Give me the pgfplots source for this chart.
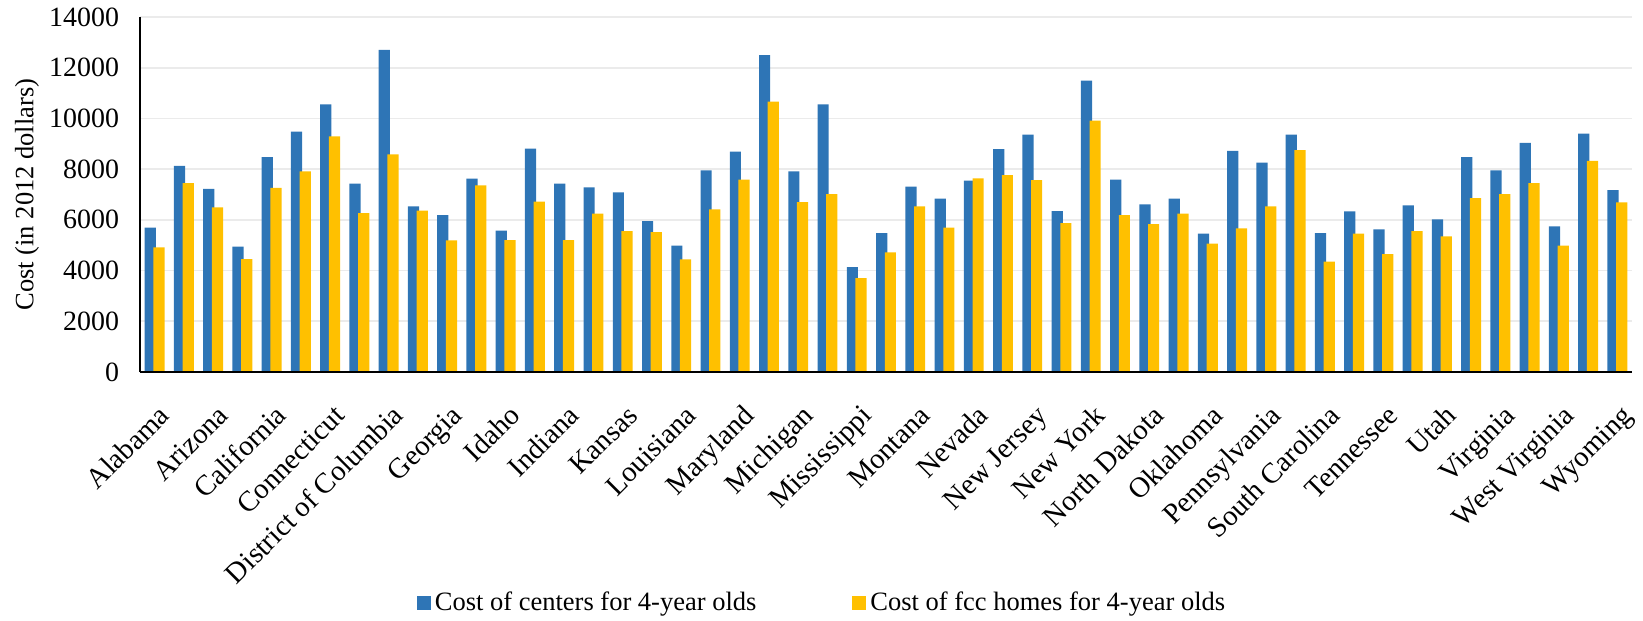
\documentclass[border=0pt]{standalone}
\usepackage{fontspec}
\setmainfont{Liberation Serif}
\usepackage{pgfplots}
\usepackage{pgfplotstable}
\pgfplotsset{compat=1.18}

\definecolor{centerblue}{HTML}{2E75B6}
\definecolor{fccyellow}{HTML}{FFC000}
\definecolor{gridgray}{HTML}{EBEBEB}

% Annual cost of care for 4-year olds by state (2012 dollars)
% idx: 0 = Alabama ... 50 = Wyoming (alphabetical, incl. District of Columbia)
\pgfplotstableread{
idx center fcc
0  5690  4910
1  8130  7450
2  7220  6490
3  4940  4450
4  8470  7260
5  9480  7910
6  10550 9290
7  7430  6265
8  12700 8580
9  6530  6360
10 6190  5190
11 7630  7355
12 5580  5200
13 8810  6720
14 7430  5200
15 7280  6250
16 7080  5560
17 5950  5520
18 4980  4440
19 7950  6410
20 8690  7590
21 12500 10660
22 7910  6700
23 10550 7010
24 4140  3700
25 5480  4715
26 7315  6530
27 6840  5690
28 7550  7640
29 8790  7760
30 9360  7565
31 6340  5870
32 11490 9915
33 7590  6190
34 6610  5830
35 6840  6250
36 5460  5060
37 8720  5660
38 8260  6530
39 9360  8750
40 5480  4350
41 6330  5460
42 5620  4650
43 6570  5560
44 6015  5345
45 8470  6855
46 7950  7015
47 9035  7450
48 5740  4980
49 9400  8330
50 7170  6685
}\costdata

\newcommand{\labelfont}{\fontsize{13.3}{15.5}\selectfont}
\newcommand{\yfont}{\fontsize{14}{16}\selectfont}
\newcommand{\xfont}{\fontsize{14.4}{16.5}\selectfont}

\begin{document}
\begin{tikzpicture}
\path[use as bounding box] (-70bp,-124.5bp) rectangle (751.5bp,186bp);
\begin{axis}[
  scale only axis,
  width=746bp, height=177.5bp,
  ybar=-1.25bp, bar width=5.6bp,
  xmin=-0.5, xmax=50.5,
  ymin=0, ymax=14000,
  ytick={0,2000,...,14000},
  scaled y ticks=false,
  xtick={0,2,...,50},
  xticklabels={Alabama,Arizona,California,Connecticut,District of Columbia,Georgia,Idaho,Indiana,Kansas,Louisiana,Maryland,Michigan,Mississippi,Montana,Nevada,New Jersey,New York,North Dakota,Oklahoma,Pennsylvania,South Carolina,Tennessee,Utah,Virginia,West Virginia,Wyoming},
  x tick label style={xshift=10.6bp, yshift=-15.9bp, rotate=45, anchor=base east, font=\xfont},
  y tick label style={font=\yfont, xshift=-7bp},
  tick style={draw=none},
  axis x line*=bottom, axis y line*=left,
  axis line style={black, line width=0.85bp, -},
  ymajorgrids,
  grid style={gridgray, line width=0.85bp},
  ylabel={Cost (in 2012 dollars)},
  ylabel style={font=\labelfont, at={(axis description cs:-0.0757,0.5)}, anchor=center},
  /pgf/number format/1000 sep={},
  /pgf/number format/assume math mode=true,
  legend columns=2,
  legend style={draw=none, fill=none, font=\labelfont,
    at={(axis description cs:0.4578,-0.6507)}, anchor=center,
    /tikz/every even column/.append style={column sep=46bp},
    nodes={inner sep=2bp}},
  legend image code/.code={\fill[#1,draw=none] (0bp,-3.5bp) rectangle (7bp,3.5bp);},
]
\addplot[fill=centerblue, draw=none] table[x=idx, y=center] {\costdata};
\addlegendentry{Cost of centers for 4-year olds}
\addplot[fill=fccyellow, draw=none] table[x=idx, y=fcc] {\costdata};
\addlegendentry{Cost of fcc homes for 4-year olds}
\draw[black, line width=1bp] (rel axis cs:0,0) -- (rel axis cs:1,0);
\end{axis}
\end{tikzpicture}
\end{document}
